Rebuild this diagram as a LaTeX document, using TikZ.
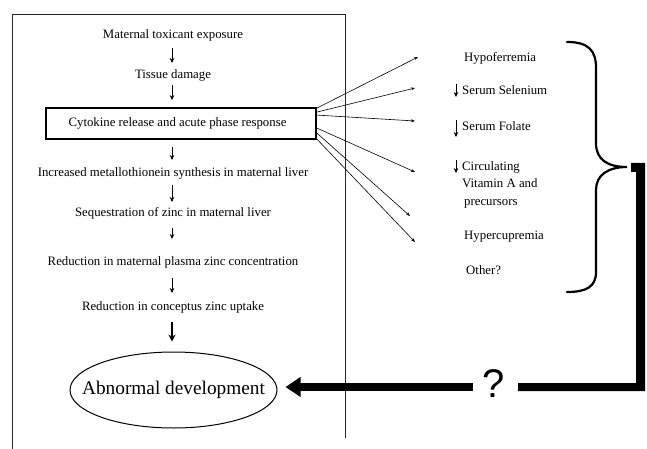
\documentclass[tikz,border=0pt]{standalone}
\usepackage{fontspec}
\setmainfont{Liberation Serif}
\newfontfamily\arialf{Liberation Sans}
\usetikzlibrary{arrows.meta,shapes.geometric,calc}
\begin{document}
\begin{tikzpicture}[x=1pt,y=-1pt,
  txt/.style={inner sep=0pt,font=\fontsize{12.8}{15}\selectfont},
  rtxt/.style={txt,anchor=west,align=left},
  stepbox/.style={txt,draw,line width=1.8pt,minimum width=270pt,minimum height=31pt},
  thinarrow/.style={line width=0.7pt,-{Stealth[length=5pt,width=4.5pt]}},
  thickarrow/.style={line width=2pt,-{Stealth[length=7pt,width=7pt]}},
  fan/.style={line width=0.6pt,-{Stealth[length=4pt,width=3pt]}},
  frame/.style={line width=0.8pt,black!85},
  brace/.style={line width=2.2pt,line cap=round},
  bigarrow/.style={line width=8.5pt,-{Triangle[length=15pt,width=19pt]}},
]
\useasboundingbox (0,0) rectangle (647,449);

% frame
\draw[frame] (12,449) -- (12,14) -- (345,14) -- (345,438);

% main column
\node[txt] (t1) at (173,35) {Maternal toxicant exposure};
\node[txt] (t2) at (173,75) {Tissue damage};
\node[stepbox] (t3) at (181,123.5) {\hspace*{-7pt}Cytokine release and acute phase response};
\node[txt] (t4) at (173,173) {Increased metallothionein synthesis in maternal liver};
\node[txt] (t5) at (173,213) {Sequestration of zinc in maternal liver};
\node[txt] (t6) at (173,262) {Reduction in maternal plasma zinc concentration};
\node[txt] (t7) at (173,307) {Reduction in conceptus zinc uptake};
\node[ellipse,draw,line width=1pt,inner xsep=-18.5pt,inner ysep=0pt,minimum width=207pt,minimum height=76pt,
      font=\fontsize{19.3}{22}\selectfont] (ab) at (173.5,390) {Abnormal development};

\draw[thinarrow,shorten <=7pt,shorten >=6pt] ([xshift=-1pt]t1.south) -- ([xshift=-1pt]t2.north);
\draw[thinarrow,shorten <=4pt,shorten >=7pt] ([xshift=-1pt]t2.south) -- ([xshift=-1pt]t3.north -| t2.south);
\draw[thinarrow,shorten <=7pt,shorten >=7pt] ([xshift=-1pt]t3.south -| t4.north) -- ([xshift=-1pt]t4.north);
\draw[thinarrow,shorten <=6pt,shorten >=5pt] ([xshift=-1pt]t4.south) -- ([xshift=-1pt]t5.north);
\draw[thinarrow,shorten <=9pt,shorten >=17pt] ([xshift=-1pt]t5.south) -- ([xshift=-1pt]t6.north);
\draw[thinarrow,shorten <=10pt,shorten >=8pt] ([xshift=-1pt]t6.south) -- ([xshift=-1pt]t7.north);
\draw[thickarrow,shorten <=9pt,shorten >=10pt] ([xshift=-1pt]t7.south) -- ([xshift=-1pt]ab.north -| t7.south);

% right column
\node[rtxt] (h1) at (464,58) {Hypoferremia};
\node[rtxt] (h2) at (462,90) {Serum Selenium};
\node[rtxt] (h3) at (462,126) {Serum Folate};
\node[rtxt] (h4) at (462,184.5) {Circulating\\[2.5pt]Vitamin A and\\[2.5pt]\hspace*{2pt}precursors};
\node[rtxt] (h5) at (464,237) {Hypercupremia};
\node[rtxt] (h6) at (466,270) {Other?};

\draw[thinarrow] ([xshift=-6pt,yshift=6pt]h2.west) -- ([xshift=-6pt,yshift=-7pt]h2.west);
\draw[thinarrow] ([xshift=-6pt,yshift=6pt]h3.west) -- ([xshift=-6pt,yshift=-11pt]h3.west);
\draw[thinarrow] ([xshift=-6pt,yshift=1pt]h4.north west) -- ([xshift=-6pt,yshift=-12pt]h4.north west);

% fan arrows
\coordinate (e1) at (418,57);
\coordinate (e2) at (415,88);
\coordinate (e3) at (415,121);
\coordinate (e4) at (415,172);
\coordinate (e5) at (410,216);
\coordinate (e6) at (415,242);
\draw[fan] ([yshift=-1pt]t3.north east) -- (e1);
\draw[fan] ([yshift=-5pt]t3.north east) -- (e2);
\draw[fan] ([yshift=-8pt]t3.north east) -- (e3);
\draw[fan] ([yshift=-21pt]t3.north east) -- (e4);
\draw[fan] ([yshift=-26pt]t3.north east) -- (e5);
\draw[fan] ([yshift=-32pt]t3.north east) -- (e6);

% brace
\coordinate (bt) at (627,167);
\draw[brace] (567,42) .. controls (588,42) and (596,50) .. (596,68) -- (596,143)
  .. controls (596,160) and (608,167) .. (bt)
  .. controls (608,167) and (596,175) .. (596,190) -- (596,272)
  .. controls (596,287) and (586,292) .. (567,292);

% question mark and thick connector
\node[inner sep=0pt,font=\arialf\fontsize{40}{40}\selectfont] (q) at (494,384) {?};
\fill (631,163) -- (645,163) -- (645,391) -- (518,391) -- (518,383) -- (636,383) -- (636,172) -- (631,172) -- cycle;
\coordinate (qL) at (473,387);
\draw[bigarrow,shorten >=8pt] (qL) -- (ab.east |- qL);
\end{tikzpicture}
\end{document}
